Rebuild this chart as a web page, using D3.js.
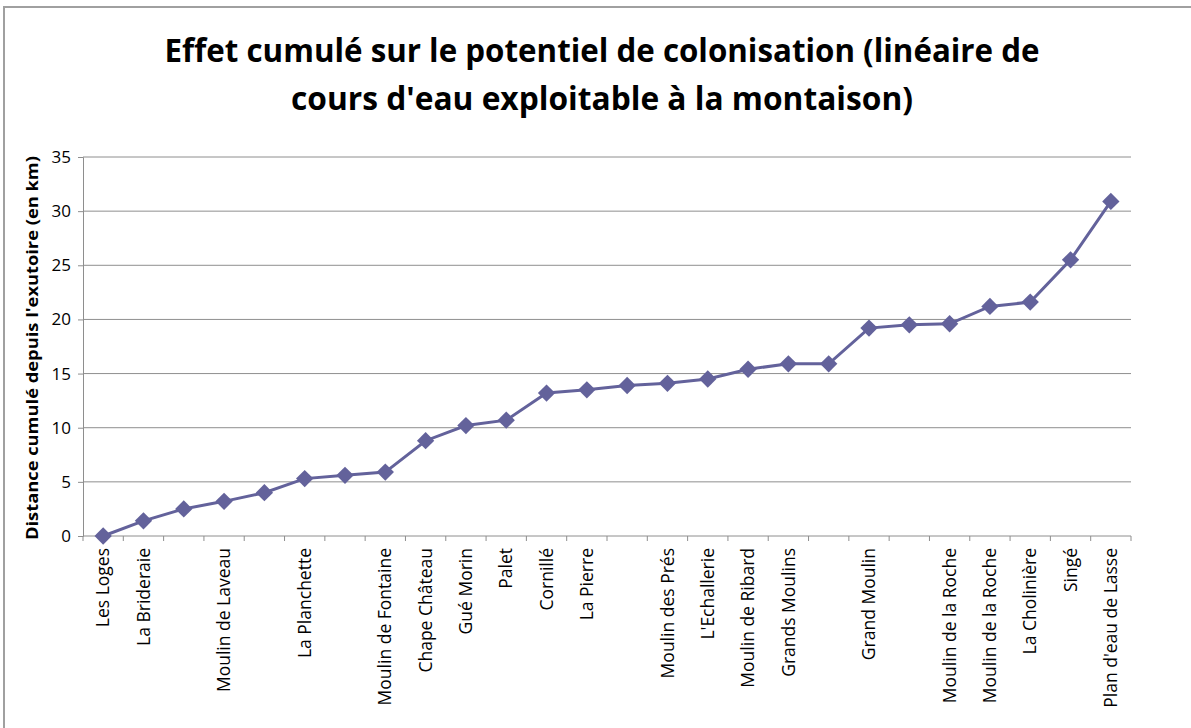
<!DOCTYPE html>
<html>
<head>
<meta charset="utf-8">
<title>Effet cumulé sur le potentiel de colonisation</title>
<script src="https://cdn.jsdelivr.net/npm/d3@7/dist/d3.min.js"></script>
<style>
  body { margin: 0; background: #fff; }
  text { font-family: "Open Sans", "DejaVu Sans", sans-serif; fill: #000; }
</style>
</head>
<body>
<script>
// noms des ouvrages (certains sans nom)
var ouvrages = ["Les Loges", "La Brideraie", "", "Moulin de Laveau", "", "La Planchette", "",
  "Moulin de Fontaine", "Chape Château", "Gué Morin", "Palet", "Cornillé", "La Pierre", "",
  "Moulin des Prés", "L'Echallerie", "Moulin de Ribard", "Grands Moulins", "", "Grand Moulin", "",
  "Moulin de la Roche", "Moulin de la Roche", "La Cholinière", "Singé", "Plan d'eau de Lasse"];
// distance cumulée en km
var distance = [0, 1.4, 2.5, 3.2, 4.0, 5.3, 5.6, 5.9, 8.8, 10.2, 10.7, 13.2, 13.5, 13.9,
  14.1, 14.5, 15.4, 15.9, 15.9, 19.2, 19.5, 19.6, 21.2, 21.6, 25.5, 30.9];
var yTicks = [0, 5, 10, 15, 20, 25, 30, 35];
var titre = ["Effet cumulé sur le potentiel de colonisation (linéaire de",
             "cours d'eau exploitable à la montaison)"];
var titreAxeY = "Distance cumulé depuis l'exutoire (en km)";

var W = 1191, H = 728;
var mLeft = 83, mRight = 1131, mTop = 157, mBottom = 536;
var couleur = "#63629b", grille = "#8e8e8e";

var svg = d3.select("body").append("svg")
  .attr("width", W).attr("height", H);

// cadre
svg.append("path")
  .attr("d", "M4," + H + "V7H" + W)
  .attr("fill", "none").attr("stroke", "#a0a0a0").attr("stroke-width", 2);

var idx = ouvrages.map(function (d, i) { return i; });
var x = d3.scaleBand().domain(idx).range([mLeft, mRight]);
var y = d3.scaleLinear().domain([0, 35]).range([mBottom, mTop]);

// grille horizontale
svg.selectAll(".grid").data(yTicks.slice(1)).enter().append("line")
  .attr("x1", mLeft).attr("x2", mRight)
  .attr("y1", function (d) { return y(d); }).attr("y2", function (d) { return y(d); })
  .attr("stroke", grille).attr("stroke-width", 1);

// axe Y
var axeY = svg.append("g").attr("transform", "translate(" + mLeft + ",0)")
  .call(d3.axisLeft(y).tickValues(yTicks).tickSize(5).tickPadding(7));
axeY.select(".domain").attr("stroke", grille);
axeY.selectAll(".tick line").attr("stroke", grille);
axeY.selectAll(".tick text").style("font-size", "17px").attr("fill", "#000");

// axe X : trait + graduations aux limites des catégories
svg.append("line").attr("x1", mLeft).attr("x2", mRight)
  .attr("y1", mBottom).attr("y2", mBottom).attr("stroke", grille);
var bornes = idx.map(function (i) { return x(i); }).concat([mRight]);
svg.selectAll(".xtick").data(bornes).enter().append("line")
  .attr("x1", function (d) { return d; }).attr("x2", function (d) { return d; })
  .attr("y1", mBottom).attr("y2", mBottom + 5).attr("stroke", grille);

// étiquettes X
svg.selectAll(".xlab").data(idx).enter().append("text")
  .attr("transform", function (i) {
    return "translate(" + (x(i) + x.bandwidth() / 2) + "," + (mBottom + 12) + ") rotate(-90)";
  })
  .attr("text-anchor", "end").attr("dy", "0.35em")
  .style("font-size", "17.5px")
  .text(function (i) { return ouvrages[i]; });

// courbe
var cx = function (i) { return x(i) + x.bandwidth() / 2; };
svg.append("path").datum(idx)
  .attr("d", d3.line().x(cx).y(function (i) { return y(distance[i]); }))
  .attr("fill", "none").attr("stroke", couleur).attr("stroke-width", 3);

// marqueurs losanges
svg.selectAll(".pt").data(idx).enter().append("path")
  .attr("d", d3.symbol().type(d3.symbolSquare).size(150))
  .attr("transform", function (i) { return "translate(" + cx(i) + "," + y(distance[i]) + ") rotate(45)"; })
  .attr("fill", couleur);

// titre
svg.selectAll(".titre").data(titre).enter().append("text")
  .attr("x", 602).attr("y", function (d, i) { return 62 + i * 48; })
  .attr("text-anchor", "middle")
  .attr("textLength", function (d, i) { return i === 0 ? 875 : 622; })
  .attr("lengthAdjust", "spacingAndGlyphs")
  .style("font-size", "33px").style("font-weight", "bold")
  .text(function (d) { return d; });

// titre axe Y
svg.append("text")
  .attr("transform", "translate(38," + (mBottom - 188) + ") rotate(-90)")
  .attr("text-anchor", "middle")
  .attr("textLength", 384).attr("lengthAdjust", "spacingAndGlyphs")
  .style("font-size", "16px").style("font-weight", "bold")
  .text(titreAxeY);
</script>
</body>
</html>
